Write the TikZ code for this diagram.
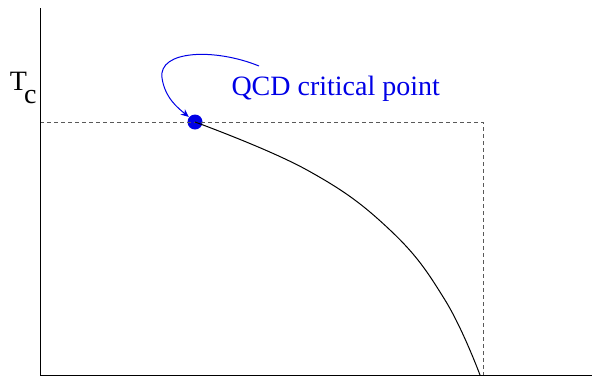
\documentclass[tikz,border=0pt]{standalone}
\usepackage{fontspec}
\setmainfont{Liberation Serif}
\usetikzlibrary{arrows.meta, positioning}
\definecolor{cpblue}{RGB}{0,0,230}
\tikzset{
    phasediagram/.style={x=0.5pt, y=-0.5pt, line width=0.5pt, >={Stealth[length=4pt, width=3.5pt]}},
    axis/.style={draw, black},
    guide/.style={draw, black!65, dash pattern=on 2pt off 1.5pt},
    critdot/.style={circle, fill=cpblue, inner sep=0pt, minimum size=7.5pt},
    textfont/.style={font=\rmfamily\fontsize{14}{16}\selectfont, inner sep=0pt},
    cplabel/.style={textfont, text=cpblue, anchor=west},
}
\begin{document}
\begin{tikzpicture}[phasediagram]
        \useasboundingbox (0,0) rectangle (592,376);
        \coordinate (origin) at (40,375);
        \coordinate (ytop)   at (40,8);
        \coordinate (xend)   at (592,375);
        \coordinate (tcleft) at (40,122);
        \coordinate (corner) at (483,122);
        \coordinate (muc)    at (483,375);
        \coordinate (xc)     at (480,375);
        \coordinate (loop)   at (259,66);
        \node[critdot]                 (cp)  at (195,122) {};
        \node[cplabel]                 (lab) at (231,89)  {QCD critical point};
        \node[textfont, anchor=east]   (tc)  at (37,88)   {T\kern-1.5pt\raisebox{-6.5pt}{c}};

        % axes and the dashed box at T_c
        \draw[guide] (tcleft) -- (corner) -- (muc);
        \draw[axis] (ytop) -- (origin) -- (xend);

        % transition line
        \draw plot[smooth, tension=0.7] coordinates {(195,122) (307,170) (390,230) (445,300) (xc)};

        % pointer to the critical point
        \draw[->, cpblue] (loop) .. controls (215,48) and (158,50) .. (162,78)
              .. controls (165,98) and (178,108) .. (cp);
    \end{tikzpicture}
\end{document}
